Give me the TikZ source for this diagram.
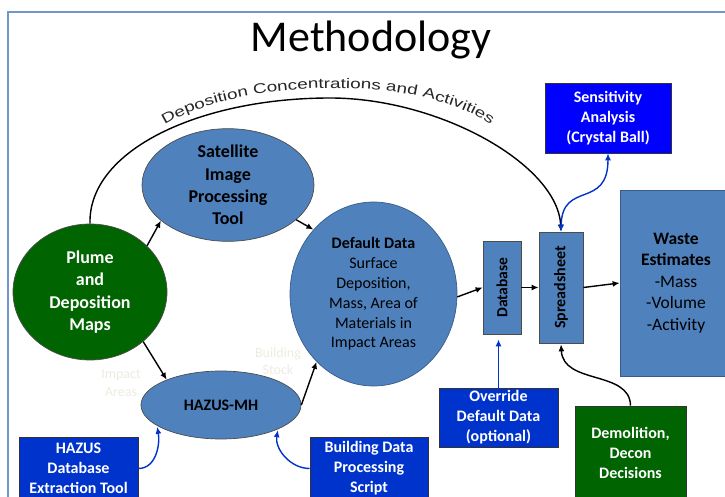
\documentclass[tikz,border=0pt]{standalone}
\usepackage{fontspec}
\usepackage{graphicx}
\setmainfont{Carlito}
\newfontfamily\arcfont[FakeStretch=1.35]{Liberation Sans}
\usetikzlibrary{shapes.geometric,arrows.meta,decorations.text}
\definecolor{steel}{HTML}{4F81BD}
\definecolor{steeledge}{HTML}{385D8A}
\definecolor{plumegreen}{HTML}{006400}
\definecolor{deepblue}{HTML}{0033CC}
\definecolor{brightblue}{HTML}{0000FF}
\definecolor{framec}{HTML}{7098CC}
\definecolor{faint}{HTML}{EEECE1}
\begin{document}
\begin{tikzpicture}[x=1pt, y=-1pt,
	oval/.style={ellipse, draw=steeledge, fill=steel, line width=.7pt, inner sep=0pt, align=center},
	blk/.style={draw=steeledge, fill=steel, line width=.7pt, inner sep=0pt, align=center},
	toolbox/.style={draw=black!80, fill=deepblue, text=white, line width=.6pt, inner sep=0pt, align=center, font=\fontsize{16}{20}\selectfont\bfseries},
	flow/.style={-{Latex[length=7pt,width=6pt]}, line width=1.4pt},
	feed/.style={flow, deepblue}]
	\useasboundingbox (0,0) rectangle (725,497);
	\clip (0,0) rectangle (725,497);
	\fill[white] (0,0) rectangle (725,497);
	%frame and title
	\draw[framec, line width=1.6pt] (8,500) -- (8,12) -- (730,12);
	\node[anchor=base, font=\fontsize{44}{44}\selectfont] (title) at (371,52) {Methodology};
	%ovals
	\node[oval, draw=black!70, fill=plumegreen, text=white, minimum width=154, minimum height=136, font=\fontsize{18}{22.5}\selectfont\bfseries] (plume) at (90,292) {Plume\\and\\Deposition\\Maps};
	\node[oval, draw=black!70, minimum width=172, minimum height=90, font=\fontsize{18}{22.3}\selectfont\bfseries] (sat) at (228,185) {Satellite\\Image\\Processing\\Tool};
	\node[oval, minimum width=167, minimum height=184, font=\fontsize{16}{19.8}\selectfont] (dflt) at (373.5,294) {\textbf{Default Data}\\Surface\\Deposition,\\Mass, Area of\\Materials in\\Impact Areas};
	\node[oval, draw=black!70, minimum width=160, minimum height=68, font=\fontsize{16}{20}\selectfont\bfseries] (hazus) at (221,405) {HAZUS-MH};
	%boxes
	\node[blk, draw=black!70, minimum width=38, minimum height=93, font=\fontsize{15.5}{18}\selectfont\bfseries] (db) at (502,287.5) {\rotatebox{90}{Database}};
	\node[blk, draw=black!70, minimum width=44, minimum height=111, font=\fontsize{16}{18}\selectfont\bfseries] (spread) at (561,287.5) {\rotatebox{90}{Spreadsheet}};
	\node[blk, minimum width=112, minimum height=186, font=\fontsize{17.5}{21.6}\selectfont] (waste) at (676,283) {\textbf{Waste}\\\textbf{Estimates}\\-Mass\\-Volume\\-Activity};
	\node[toolbox, fill=brightblue, minimum width=126, minimum height=70] (sens) at (608,118) {Sensitivity\\Analysis\\(Crystal Ball)};
	\node[toolbox, minimum width=119, minimum height=63] (hazx) at (78.5,468.5) {HAZUS\\Database\\Extraction Tool};
	\node[toolbox, minimum width=118, minimum height=63] (bldg) at (369,468.5) {Building Data\\Processing\\Script};
	\node[toolbox, minimum width=119, minimum height=59] (ovr) at (498.5,417.5) {Override\\Default Data\\(optional)};
	\node[toolbox, fill=plumegreen, minimum width=111, minimum height=94] (demo) at (630.5,453) {Demolition,\\Decon\\Decisions};
	%faint labels
	\node[text=faint, align=center, font=\fontsize{14}{18}\selectfont] (areas) at (121,383) {Impact\\Areas};
	\node[text=faint, align=center, font=\fontsize{14}{17}\selectfont] (stock) at (278,361) {Building\\Stock};
	%arc with label
	\draw[flow] (plume.north) .. controls (88,150) and (200,98) .. (330,98) .. controls (440,98) and (558,165) .. (spread.north);
	\path[decorate, decoration={text along path, text align=center, text color=black!85,
		text={|\fontsize{14}{14}\selectfont\arcfont|Deposition Concentrations and Activities}}]
		(160,128) .. controls (230,80) and (420,70) .. (495,128);
	%black arrows
	\draw[flow] (plume.39) -- (sat.208);
	\draw[flow] (sat.-27) -- (dflt.133);
	\draw[flow] (plume.-43) -- (hazus.155);
	\draw[flow] (hazus.0) -- (dflt.230);
	\draw[flow] (dflt.-2) -- (db.west);
	\draw[flow] (db.east) -- (spread.west);
	\draw[flow] (spread.east) -- (waste.west);
	\draw[flow, shorten >=1pt] (demo.north) .. controls (630,370) and (563,385) .. (spread.south);
	%blue arrows
	\draw[feed, {Latex[length=7pt,width=6pt]}-{Latex[length=7pt,width=6pt]}] (spread.north) .. controls (562,180) and (608,210) .. (sens.south);
	\draw[feed, shorten >=5pt] (ovr.north) -- (ovr.north |- db.south);
	\draw[feed, shorten >=1pt] (hazx.east) to[out=0, in=-80] (hazus.198);
	\draw[feed, shorten >=1pt] (bldg.west) to[out=180, in=-100] (hazus.-23);
\end{tikzpicture}
\end{document}
